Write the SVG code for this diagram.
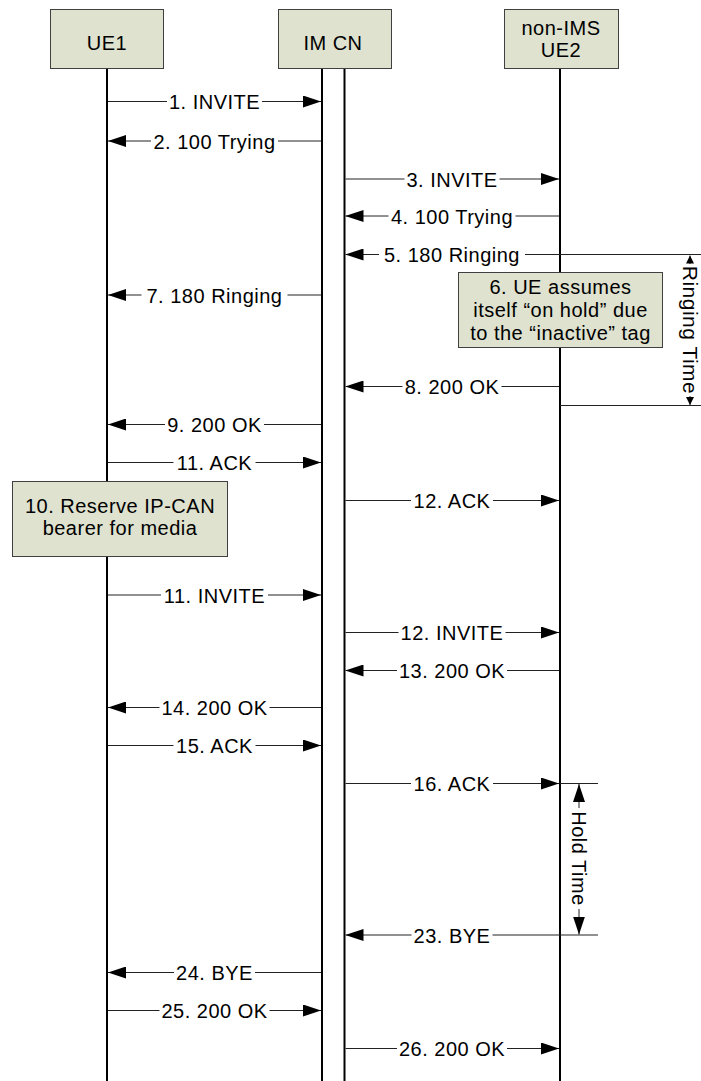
<svg xmlns="http://www.w3.org/2000/svg" width="701" height="1081" viewBox="0 0 701 1081">
<style>
.box{fill:#dee2cf;stroke:#404040;stroke-width:1}
.life{stroke:#000;stroke-width:2;fill:none}
.msg{stroke:#222;stroke-width:1;fill:none}
.arr{marker-end:url(#ah)}
.sarr{marker-end:url(#sh)}
text{font-family:"Liberation Sans",Arial,sans-serif;font-size:20px;letter-spacing:0.5px;fill:#000;text-anchor:middle}
</style>
<defs>
<marker id="ah" markerUnits="userSpaceOnUse" markerWidth="18" markerHeight="12" refX="18" refY="6" orient="auto"><path d="M0,0 L18,6 L0,12 z" fill="#000"/></marker>
<marker id="sh" markerUnits="userSpaceOnUse" markerWidth="8" markerHeight="8" refX="8" refY="4" orient="auto"><path d="M0,0 L8,4 L0,8 z" fill="#000"/></marker>
</defs>
<rect width="701" height="1081" fill="#fff"/>
<g id="lifelines">
<line class="life" x1="107" y1="69" x2="107" y2="1081"/>
<line class="life" x1="322" y1="69" x2="322" y2="1081"/>
<line class="life" x1="344.5" y1="69" x2="344.5" y2="1081"/>
<line class="life" x1="560" y1="69" x2="560" y2="1081"/>
</g>
<g id="UE1"><rect class="box" x="50.5" y="9.5" width="113" height="59"/><text x="107" y="50">UE1</text></g>
<g id="IMCN"><rect class="box" x="278.5" y="9.5" width="113" height="59"/><text x="333" y="50">IM CN</text></g>
<g id="UE2"><rect class="box" x="504.5" y="9.5" width="114" height="59"/><text x="561" y="34.5">non-IMS</text><text x="561" y="56.5">UE2</text></g>
<g id="connectors">
<line class="msg" x1="108" y1="101.5" x2="167" y2="101.5"/><line class="msg arr" x1="262" y1="101.5" x2="321" y2="101.5"/><text x="214.5" y="109">1. INVITE</text>
<line class="msg arr" x1="151" y1="141" x2="108" y2="141"/><line class="msg" x1="321" y1="141" x2="278" y2="141"/><text x="214.5" y="148.5">2. 100 Trying</text>
<line class="msg" x1="345.5" y1="179" x2="404.5" y2="179"/><line class="msg arr" x1="499.5" y1="179" x2="559" y2="179"/><text x="452" y="186.5">3. INVITE</text>
<line class="msg arr" x1="388.5" y1="216" x2="345.5" y2="216"/><line class="msg" x1="559" y1="216" x2="515.5" y2="216"/><text x="452" y="223.5">4. 100 Trying</text>
<line class="msg arr" x1="379" y1="254.5" x2="345.5" y2="254.5"/><line class="msg" x1="701" y1="254.5" x2="525" y2="254.5"/><text x="452" y="262">5. 180 Ringing</text>
<line class="msg arr" x1="141.5" y1="295" x2="108" y2="295"/><line class="msg" x1="321" y1="295" x2="287.5" y2="295"/><text x="214.5" y="302.5">7. 180 Ringing</text>
<line class="msg arr" x1="402.5" y1="386.5" x2="345.5" y2="386.5"/><line class="msg" x1="559" y1="386.5" x2="501.5" y2="386.5"/><text x="452" y="394">8. 200 OK</text>
<line class="msg" x1="560" y1="405.5" x2="701" y2="405.5"/>
<line class="msg arr" x1="165" y1="424.5" x2="108" y2="424.5"/><line class="msg" x1="321" y1="424.5" x2="264" y2="424.5"/><text x="214.5" y="432">9. 200 OK</text>
<line class="msg" x1="108" y1="462.5" x2="173.5" y2="462.5"/><line class="msg arr" x1="255.5" y1="462.5" x2="321" y2="462.5"/><text x="214.5" y="470">11. ACK</text>
<line class="msg" x1="345.5" y1="500.5" x2="411" y2="500.5"/><line class="msg arr" x1="493" y1="500.5" x2="559" y2="500.5"/><text x="452" y="508">12. ACK</text>
<line class="msg" x1="108" y1="595" x2="161" y2="595"/><line class="msg arr" x1="268" y1="595" x2="321" y2="595"/><text x="214.5" y="602.5">11. INVITE</text>
<line class="msg" x1="345.5" y1="632.5" x2="398.5" y2="632.5"/><line class="msg arr" x1="505.5" y1="632.5" x2="559" y2="632.5"/><text x="452" y="640">12. INVITE</text>
<line class="msg arr" x1="397" y1="670.5" x2="345.5" y2="670.5"/><line class="msg" x1="559" y1="670.5" x2="507" y2="670.5"/><text x="452" y="678">13. 200 OK</text>
<line class="msg arr" x1="159.5" y1="707.5" x2="108" y2="707.5"/><line class="msg" x1="321" y1="707.5" x2="269.5" y2="707.5"/><text x="214.5" y="715">14. 200 OK</text>
<line class="msg" x1="108" y1="745.5" x2="173.5" y2="745.5"/><line class="msg arr" x1="255.5" y1="745.5" x2="321" y2="745.5"/><text x="214.5" y="753">15. ACK</text>
<line class="msg" x1="345.5" y1="783.5" x2="411" y2="783.5"/><line class="msg arr" x1="493" y1="783.5" x2="559" y2="783.5"/><line class="msg" x1="560" y1="783.5" x2="598" y2="783.5"/><text x="452" y="791">16. ACK</text>
<line class="msg arr" x1="411.5" y1="935" x2="345.5" y2="935"/><line class="msg" x1="598" y1="935" x2="492.5" y2="935"/><text x="452" y="942.5">23. BYE</text>
<line class="msg arr" x1="174" y1="972.5" x2="108" y2="972.5"/><line class="msg" x1="321" y1="972.5" x2="255" y2="972.5"/><text x="214.5" y="980">24. BYE</text>
<line class="msg" x1="108" y1="1010.5" x2="159.5" y2="1010.5"/><line class="msg arr" x1="269.5" y1="1010.5" x2="321" y2="1010.5"/><text x="214.5" y="1018">25. 200 OK</text>
<line class="msg" x1="345.5" y1="1048.5" x2="397" y2="1048.5"/><line class="msg arr" x1="507" y1="1048.5" x2="559" y2="1048.5"/><text x="452" y="1056">26. 200 OK</text>
<line class="msg sarr" x1="690" y1="264" x2="690" y2="255.5"/><line class="msg sarr" x1="690" y1="396" x2="690" y2="405"/>
<text transform="translate(690,330) rotate(90)" y="7" style="font-size:21px">Ringing Time</text>
<line class="msg arr" x1="579" y1="808" x2="579" y2="784"/><line class="msg arr" x1="579" y1="909" x2="579" y2="934.5"/>
<text transform="translate(579,858.5) rotate(90)" y="7">Hold Time</text>
</g>
<g id="note6"><rect class="box" x="458.5" y="272.5" width="204" height="75"/><text x="560.5" y="293.5">6. UE assumes</text><text x="560.5" y="316.5">itself “on hold” due</text><text x="560.5" y="339.5">to the “inactive” tag</text></g>
<g id="note10"><rect class="box" x="12.5" y="481.5" width="215" height="75"/><text x="120" y="512.5">10. Reserve IP-CAN</text><text x="120" y="535">bearer for media</text></g>
</svg>
